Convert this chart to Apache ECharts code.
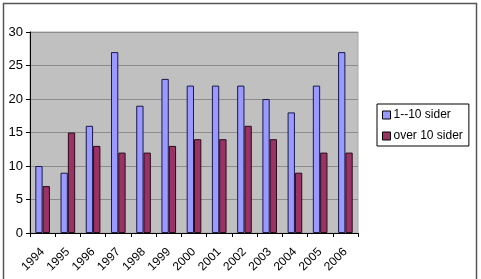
<!DOCTYPE html>
<html>
<head>
<meta charset="utf-8">
<script src="https://cdn.jsdelivr.net/npm/echarts@6/dist/echarts.min.js"></script>
<style>
  html, body { margin: 0; padding: 0; background: #fff; }
  #chart { width: 481px; height: 279px; }
</style>
</head>
<body>
<div id="chart"></div>
<script>
const years = ["1994", "1995", "1996", "1997", "1998", "1999", "2000", "2001", "2002", "2003", "2004", "2005", "2006"];
const small = [10, 9, 16, 27, 19, 23, 22, 22, 22, 20, 18, 22, 27];
const large = [7, 15, 13, 12, 12, 13, 14, 14, 16, 14, 9, 12, 12];
const seriesNames = ["1--10 sider", "over 10 sider"];

const chart = echarts.init(document.getElementById("chart"), null, { renderer: "canvas" });

const font = "Liberation Sans, Arial, sans-serif";

chart.setOption({
  animation: false,
  backgroundColor: "#fff",
  textStyle: { fontFamily: font },
  graphic: [
    {
      type: "rect",
      shape: { x: 3.5, y: 3.5, width: 473, height: 280 },
      style: { fill: "none", stroke: "#555", lineWidth: 1.5 },
      silent: true,
    },
  ],
  grid: {
    left: 30, top: 32, right: 123, bottom: 46,
    show: true, backgroundColor: "#c0c0c0", borderColor: "#a8a8a8", borderWidth: 1,
  },
  legend: {
    left: 377, top: 104, width: 95,
    orient: "vertical",
    itemWidth: 8, itemHeight: 8, itemGap: 9,
    padding: [5, 6, 4, 5],
    borderColor: "#000", borderWidth: 1,
    textStyle: { fontSize: 12, color: "#000", fontFamily: font, padding: [0, 0, 0, -2] },
    icon: "rect",
    data: seriesNames.map((n) => ({ name: n, itemStyle: { borderColor: "#000", borderWidth: 1 } })),
  },
  xAxis: {
    type: "category",
    data: years,
    axisLine: { lineStyle: { color: "#000" } },
    axisTick: { show: true, length: 4, lineStyle: { color: "#000" }, alignWithLabel: false },
    axisLabel: { rotate: 45, interval: 0, fontSize: 12, color: "#000", fontFamily: font, margin: 17 },
  },
  yAxis: {
    type: "value",
    min: 0, max: 30, interval: 5,
    axisLine: { show: true, lineStyle: { color: "#000" } },
    axisTick: { show: true, length: 4, lineStyle: { color: "#000" } },
    axisLabel: { fontSize: 13, color: "#000", fontFamily: font, margin: 7 },
    splitLine: { lineStyle: { color: "#8c8c8c", width: 1 } },
  },
  series: [
    {
      name: seriesNames[0], type: "bar", data: small,
      barGap: "0%", barCategoryGap: "42%",
      itemStyle: { color: "#9999ff", borderColor: "#1a1a4a", borderWidth: 1 },
    },
    {
      name: seriesNames[1], type: "bar", data: large,
      barGap: "0%", barCategoryGap: "42%",
      itemStyle: { color: "#993366", borderColor: "#2a0a18", borderWidth: 1 },
    },
  ],
});
</script>
</body>
</html>
